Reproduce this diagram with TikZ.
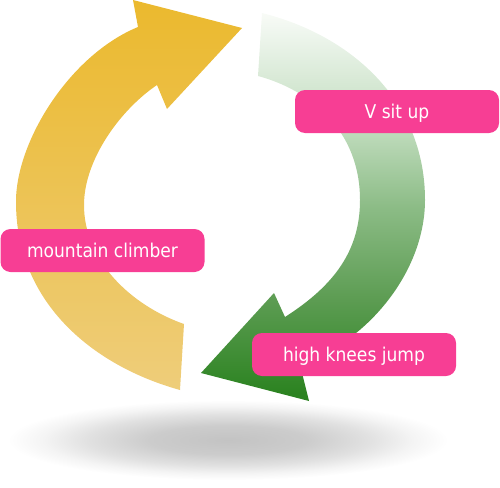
\documentclass[tikz,border=0pt]{standalone}
\usepackage{fontspec}
\setmainfont{DejaVu Sans Condensed}
\definecolor{pinkbox}{RGB}{247,62,148}
\definecolor{ytop}{RGB}{235,185,46}
\definecolor{ybot}{RGB}{238,205,122}
\definecolor{gtop}{RGB}{248,251,247}
\definecolor{gmid1}{RGB}{192,220,189}
\definecolor{gmid2}{RGB}{140,188,134}
\definecolor{gmid3}{RGB}{92,156,82}
\definecolor{gbot}{RGB}{44,131,33}
\definecolor{shd}{RGB}{195,195,195}
\pgfdeclareverticalshading{greensh}{100bp}{color(0bp)=(gbot); color(26bp)=(gbot); color(38bp)=(gmid3); color(50bp)=(gmid2); color(60bp)=(gmid1); color(75bp)=(gtop); color(100bp)=(gtop)}
\pgfdeclareradialshading{shadowsh}{\pgfpoint{0bp}{0bp}}{color(0bp)=(shd); color(9bp)=(shd!85); color(16bp)=(shd!50); color(21bp)=(shd!18); color(25bp)=(white); color(50bp)=(white)}
\tikzset{
  label box/.style={fill=pinkbox, rounded corners=10pt, minimum width=204pt, minimum height=43pt,
    text=white, font=\fontsize{19}{21}\selectfont, text height=13.5pt, text depth=0pt, inner sep=0pt}
}
\begin{document}
\begin{tikzpicture}[x=1pt,y=-1pt]
\useasboundingbox (0,0) rectangle (500,487);
% shadow
\shade[shading=shadowsh] (228,440) ellipse [x radius=220, y radius=40];
% yellow arrow
\shade[top color=ytop, bottom color=ybot]
  (180,390) .. controls (90,365) and (15,300) .. (16,200)
  .. controls (17,140) and (70,55) .. (138,27)
  -- (133,0) -- (242,28) -- (167,109) -- (157,85)
  .. controls (120,110) and (84,160) .. (84,205)
  .. controls (84,260) and (130,305) .. (184,324) -- cycle;
% green arrow
\shade[shading=greensh]
  (262,13) .. controls (350,35) and (425,100) .. (425,200)
  .. controls (425,270) and (370,340) .. (300,365)
  -- (309,401) -- (201,373) -- (274,293) -- (285,317)
  .. controls (335,285) and (360,250) .. (360,200)
  .. controls (360,130) and (310,90) .. (258,76) -- cycle;
% labels
\node[label box] (vsit) at (397,111.5) {V sit up};
\node[label box] (mount) at (102.5,250.5) {mountain climber};
\node[label box] (knees) at (354,354.5) {high knees jump};
\end{tikzpicture}
\end{document}
